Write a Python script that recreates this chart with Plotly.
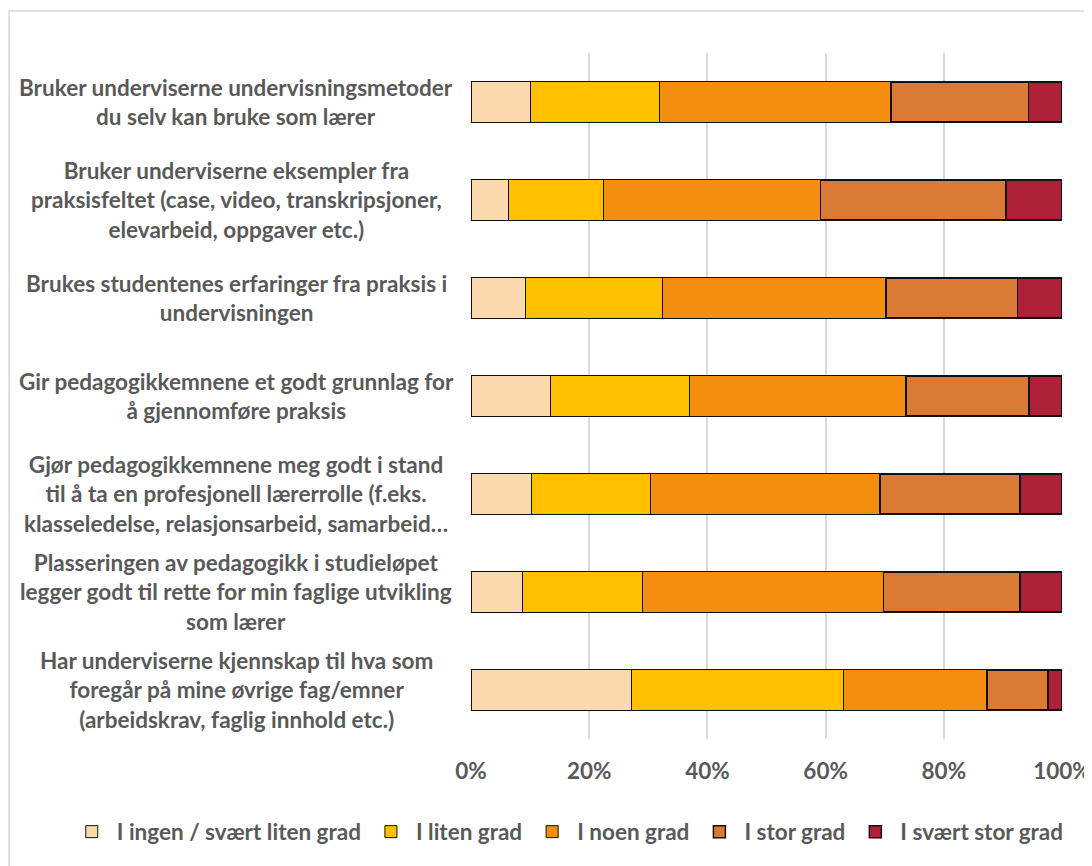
import plotly.graph_objects as go

# Questions (top to bottom as shown in the chart)
questions = [
    "Bruker underviserne undervisningsmetoder<br>du selv kan bruke som lærer",
    "Bruker underviserne eksempler fra<br>praksisfeltet (case, video, transkripsjoner,<br>elevarbeid, oppgaver etc.)",
    "Brukes studentenes erfaringer fra praksis i<br>undervisningen",
    "Gir pedagogikkemnene et godt grunnlag for<br>å gjennomføre praksis",
    "Gjør pedagogikkemnene meg godt i stand<br>til å ta en profesjonell lærerrolle (f.eks.<br>klasseledelse, relasjonsarbeid, samarbeid…",
    "Plasseringen av pedagogikk i studieløpet<br>legger godt til rette for min faglige utvikling<br>som lærer",
    "Har underviserne kjennskap til hva som<br>foregår på mine øvrige fag/emner<br>(arbeidskrav, faglig innhold etc.)",
]
cats = ["Q1", "Q2", "Q3", "Q4", "Q5", "Q6", "Q7"]

# Share of answers per category (fractions)
ingen = [0.101, 0.063, 0.092, 0.135, 0.102, 0.087, 0.272]
liten = [0.218, 0.162, 0.232, 0.235, 0.201, 0.203, 0.359]
noen = [0.392, 0.366, 0.378, 0.366, 0.389, 0.408, 0.242]
stor = [0.232, 0.314, 0.223, 0.208, 0.237, 0.231, 0.103]
svaert_stor = [0.057, 0.095, 0.075, 0.056, 0.071, 0.071, 0.024]

series = [
    ("I ingen / svært liten grad", ingen, "#FAD9AC", 1),
    ("I liten grad", liten, "#FFC000", 1),
    ("I noen grad", noen, "#F38E10", 1),
    ("I stor grad", stor, "#DB7A35", 1.5),
    ("I svært stor grad", svaert_stor, "#AE2138", 1.5),
]

grey = "#595959"
font_family = "Lato, 'Open Sans', sans-serif"
fsize = 22.5

fig = go.Figure()
for name, vals, color, lw in series:
    fig.add_trace(go.Bar(
        y=cats, x=vals, name=name, orientation="h",
        marker=dict(color=color, line=dict(color="#111111", width=lw)),
    ))

# Category labels, centred like the original
for cat, q in zip(cats, questions):
    fig.add_annotation(
        x=-0.3976, xref="paper", y=cat, yref="y",
        text=q, showarrow=False, align="center",
        xanchor="center", yanchor="middle",
        font=dict(family=font_family, size=fsize, color=grey, weight="bold"),
    )

# Light chart-area frame
fig.add_shape(type="rect", xref="paper", yref="paper",
              x0=-0.7817, y0=-0.4, x1=1.2, y1=1.0612,
              line=dict(color="#D9D9D9", width=1.5), layer="below")

# page body has an 8px margin, so the figure is a bit smaller than the window
fig.update_layout(
    barmode="stack",
    bargap=0.59,
    width=1084, height=858,
    margin=dict(l=463, r=30, t=45, b=127, autoexpand=False),
    paper_bgcolor="white",
    plot_bgcolor="white",
    font=dict(family=font_family, size=fsize, color=grey),
    legend=dict(
        orientation="h", x=-0.684, xanchor="left",
        y=-0.1356, yanchor="middle",
        font=dict(family=font_family, size=22.5, color=grey, weight="bold"),
        itemwidth=40, traceorder="normal",
    ),
    showlegend=True,
)
fig.update_xaxes(
    range=[0, 1], tickformat=".0%", dtick=0.2,
    showgrid=True, gridcolor="#D9D9D9", gridwidth=1.5,
    zeroline=False, showline=False,
    ticks="outside", ticklen=12, tickcolor="rgba(0,0,0,0)",
    tickfont=dict(family=font_family, size=fsize, color=grey, weight="bold"),
)
fig.update_yaxes(
    autorange="reversed", showticklabels=False, showgrid=False,
    zeroline=False, showline=False,
)

fig.write_html("out.html")
